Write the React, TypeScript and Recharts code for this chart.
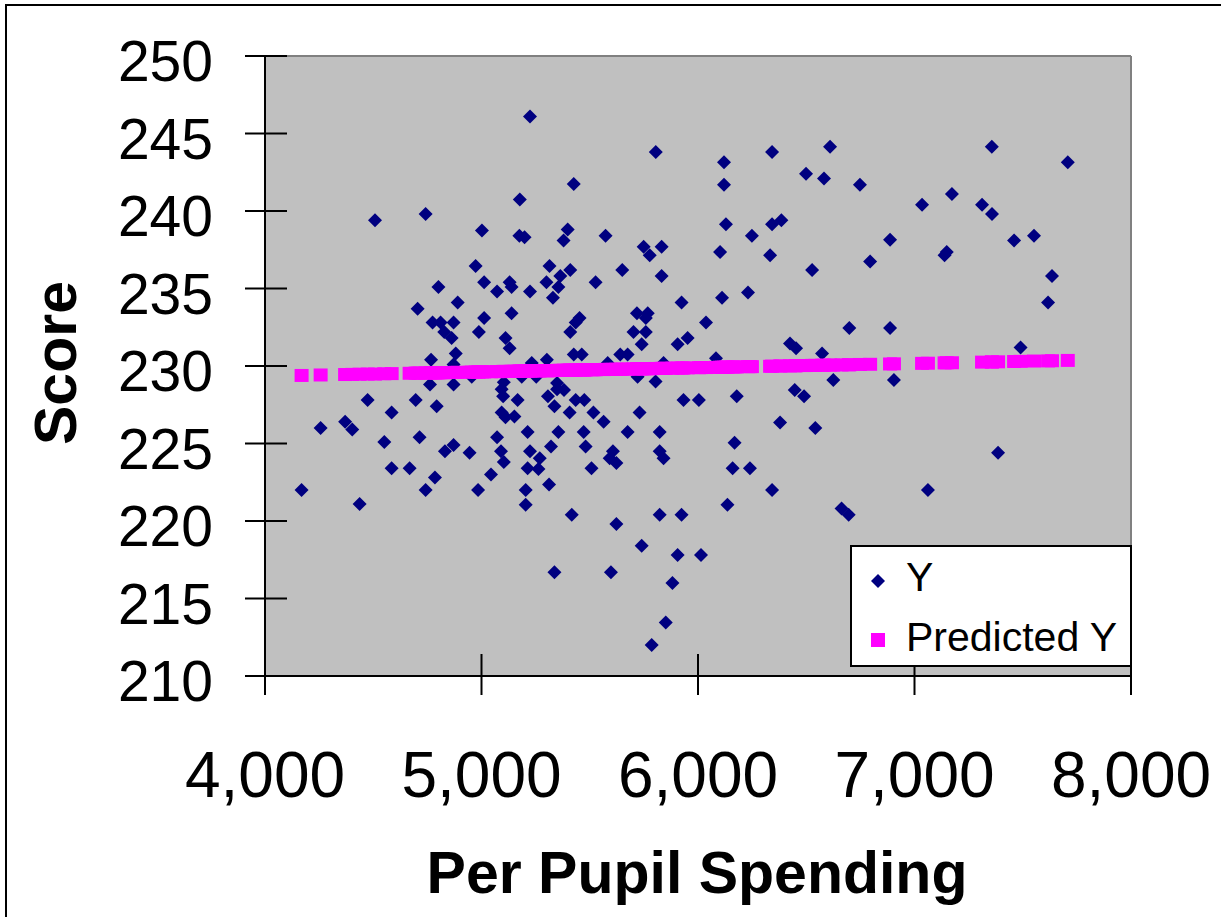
import React from "react";
import { ScatterChart, Scatter, XAxis, YAxis, CartesianGrid, ReferenceLine } from "recharts";

// spending, score
const observed: [number, number][] = [
  [4169, 222.0], [4257, 226.0], [4370, 226.4], [4403, 225.9], [4437, 221.1], [4474, 227.8],
  [4508, 239.4], [4551, 225.1], [4585, 227.0], [4585, 223.4], [4668, 223.4], [4696, 227.8],
  [4705, 233.7], [4714, 225.4], [4742, 239.8], [4742, 222.0], [4762, 228.8], [4767, 230.4],
  [4774, 232.8], [4785, 222.8], [4793, 227.4], [4801, 235.1], [4811, 232.8], [4828, 232.2],
  [4831, 224.5], [4862, 231.8], [4871, 232.8], [4871, 230.1], [4871, 228.8], [4871, 224.9],
  [4881, 230.8], [4890, 234.1], [4945, 224.4], [4955, 229.3], [4973, 236.45], [4984, 222.0],
  [4988, 232.2], [5002, 238.75], [5012, 235.4], [5012, 233.1], [5044, 223.0], [5072, 234.8],
  [5072, 225.4], [5090, 224.5], [5093, 228.5], [5093, 227.0], [5100, 228.05], [5103, 228.95],
  [5103, 223.8], [5111, 231.8], [5111, 226.7], [5130, 235.4], [5130, 231.15], [5139, 235.1],
  [5139, 233.4], [5152, 226.75], [5167, 227.8], [5175, 238.4], [5177, 240.75], [5186, 229.3],
  [5199, 238.3], [5204, 222.0], [5204, 221.05], [5213, 225.75], [5213, 223.4], [5224, 246.1],
  [5224, 234.8], [5224, 224.5], [5232, 230.2], [5253, 229.3], [5263, 223.35], [5269, 224.05],
  [5300, 235.4], [5302, 230.4], [5307, 228.05], [5312, 222.35], [5314, 236.45], [5321, 224.8],
  [5330, 234.4], [5337, 227.4], [5337, 216.7], [5349, 228.9], [5349, 228.5], [5355, 235.1],
  [5355, 225.75], [5364, 235.8], [5379, 238.1], [5381, 228.45], [5398, 238.8], [5407, 227.0],
  [5410, 236.2], [5410, 232.2], [5417, 220.4], [5426, 241.75], [5426, 230.75], [5435, 232.8],
  [5435, 227.8], [5453, 233.1], [5463, 230.75], [5472, 225.75], [5475, 227.8], [5481, 224.8],
  [5508, 223.4], [5517, 227.0], [5527, 235.4], [5564, 226.4], [5573, 238.4], [5583, 230.2],
  [5592, 224.05], [5598, 216.7], [5607, 224.5], [5623, 223.75], [5623, 219.8], [5641, 230.75],
  [5650, 236.2], [5675, 230.75], [5675, 225.75], [5702, 232.2], [5718, 233.4], [5721, 229.3],
  [5730, 227.0], [5740, 231.4], [5740, 218.4], [5749, 237.7], [5759, 233.1], [5759, 232.2],
  [5768, 233.4], [5777, 237.15], [5786, 212.0], [5804, 229.0], [5805, 243.8], [5823, 225.75],
  [5823, 224.5], [5823, 220.4], [5832, 237.7], [5832, 235.8], [5841, 230.2], [5841, 224.05],
  [5851, 213.45], [5882, 216.0], [5906, 231.4], [5906, 217.8], [5924, 234.1], [5924, 220.4],
  [5933, 227.8], [5952, 231.8], [6004, 227.8], [6014, 217.8], [6037, 232.8], [6083, 230.5],
  [6102, 237.35], [6111, 234.4], [6120, 243.15], [6120, 241.7], [6129, 239.15], [6136, 221.05],
  [6160, 223.4], [6169, 225.05], [6179, 228.05], [6231, 234.75], [6240, 223.4], [6249, 238.4],
  [6333, 237.15], [6342, 243.8], [6342, 239.15], [6342, 222.0], [6379, 226.35], [6385, 239.4],
  [6425, 231.45], [6447, 228.45], [6453, 231.15], [6490, 228.05], [6499, 242.4], [6527, 236.2],
  [6542, 226.0], [6573, 230.8], [6582, 242.1], [6610, 244.15], [6625, 229.1], [6663, 220.8],
  [6696, 220.4], [6699, 232.45], [6748, 241.7], [6795, 236.75], [6887, 238.15], [6887, 232.45],
  [6905, 229.1], [7035, 240.4], [7062, 222.0], [7139, 237.15], [7149, 237.35], [7173, 241.1],
  [7312, 240.4], [7357, 244.15], [7358, 239.8], [7386, 224.4], [7460, 238.1], [7490, 231.2],
  [7552, 238.4], [7617, 234.1], [7635, 235.8], [7708, 243.15],
];

// spending, predicted score (the magenta band)
const predicted: [number, number][] = [
  [4169, 229.39], [4257, 229.42], [4370, 229.45], [4403, 229.46], [4437, 229.47], [4474, 229.48],
  [4508, 229.48], [4551, 229.5], [4585, 229.51], [4668, 229.53], [4696, 229.54], [4705, 229.54],
  [4714, 229.54], [4742, 229.55], [4762, 229.55], [4767, 229.56], [4774, 229.56], [4785, 229.56],
  [4793, 229.56], [4801, 229.56], [4811, 229.57], [4828, 229.57], [4831, 229.57], [4862, 229.58],
  [4871, 229.58], [4881, 229.59], [4890, 229.59], [4945, 229.6], [4955, 229.61], [4973, 229.61],
  [4984, 229.61], [4988, 229.62], [5002, 229.62], [5012, 229.62], [5044, 229.63], [5072, 229.64],
  [5090, 229.64], [5093, 229.64], [5100, 229.65], [5103, 229.65], [5111, 229.65], [5130, 229.65],
  [5139, 229.66], [5152, 229.66], [5167, 229.66], [5175, 229.67], [5177, 229.67], [5186, 229.67],
  [5199, 229.67], [5204, 229.67], [5213, 229.68], [5224, 229.68], [5232, 229.68], [5253, 229.69],
  [5263, 229.69], [5269, 229.69], [5300, 229.7], [5302, 229.7], [5307, 229.7], [5312, 229.7],
  [5314, 229.7], [5321, 229.71], [5330, 229.71], [5337, 229.71], [5349, 229.71], [5355, 229.72],
  [5364, 229.72], [5379, 229.72], [5381, 229.72], [5398, 229.73], [5407, 229.73], [5410, 229.73],
  [5417, 229.73], [5426, 229.73], [5435, 229.74], [5453, 229.74], [5463, 229.75], [5472, 229.75],
  [5475, 229.75], [5481, 229.75], [5508, 229.76], [5517, 229.76], [5527, 229.76], [5564, 229.77],
  [5573, 229.78], [5583, 229.78], [5592, 229.78], [5598, 229.78], [5607, 229.78], [5623, 229.79],
  [5641, 229.79], [5650, 229.8], [5675, 229.8], [5702, 229.81], [5718, 229.82], [5721, 229.82],
  [5730, 229.82], [5740, 229.82], [5749, 229.82], [5759, 229.83], [5768, 229.83], [5777, 229.83],
  [5786, 229.83], [5804, 229.84], [5805, 229.84], [5823, 229.84], [5832, 229.85], [5841, 229.85],
  [5851, 229.85], [5882, 229.86], [5906, 229.87], [5924, 229.87], [5933, 229.87], [5952, 229.88],
  [6004, 229.89], [6014, 229.9], [6037, 229.9], [6083, 229.91], [6102, 229.92], [6111, 229.92],
  [6120, 229.92], [6129, 229.93], [6136, 229.93], [6160, 229.94], [6169, 229.94], [6179, 229.94],
  [6231, 229.96], [6240, 229.96], [6249, 229.96], [6333, 229.98], [6342, 229.99], [6379, 230.0],
  [6385, 230.0], [6425, 230.01], [6447, 230.01], [6453, 230.02], [6490, 230.03], [6499, 230.03],
  [6527, 230.04], [6542, 230.04], [6573, 230.05], [6582, 230.05], [6610, 230.06], [6625, 230.06],
  [6663, 230.07], [6696, 230.08], [6699, 230.08], [6748, 230.1], [6795, 230.11], [6887, 230.13],
  [6905, 230.14], [7035, 230.17], [7062, 230.18], [7139, 230.2], [7149, 230.21], [7173, 230.21],
  [7312, 230.25], [7357, 230.26], [7358, 230.26], [7386, 230.27], [7460, 230.29], [7490, 230.3],
  [7552, 230.32], [7617, 230.33], [7635, 230.34], [7708, 230.36],
];

const xTicks = [4000, 5000, 6000, 7000, 8000];
const yTicks = [210, 215, 220, 225, 230, 235, 240, 245, 250];

const FONT = '"Liberation Sans", Arial, sans-serif';
const NAVY = "#000080";
const MAGENTA = "#FF00FF";

const yData = observed.map(([x, y]) => ({ x, y }));
const pData = predicted.map(([x, y]) => ({ x, y }));

function Diamond(props: any) {
  const { cx, cy } = props;
  return (
    <polygon
      points={`${cx},${cy - 7} ${cx + 7},${cy} ${cx},${cy + 7} ${cx - 7},${cy}`}
      fill={NAVY}
    />
  );
}

function Square(props: any) {
  const { cx, cy } = props;
  return <rect x={cx - 7} y={cy - 6.5} width={14} height={13} fill={MAGENTA} />;
}

function YTick({ x, y, payload }: any) {
  return (
    <g>
      <line x1={x - 20} x2={x + 22} y1={y} y2={y} stroke="#000" strokeWidth={2} />
      <text x={x - 52} y={y + 25} textAnchor="end" fontSize={57} fontFamily={FONT} fill="#000">
        {payload.value}
      </text>
    </g>
  );
}

function XTick({ x, y, payload }: any) {
  return (
    <g>
      <line x1={x} x2={x} y1={y - 22} y2={y + 19} stroke="#000" strokeWidth={2} />
      <text x={x} y={y + 121} textAnchor="middle" fontSize={64} fontFamily={FONT} fill="#000">
        {Number(payload.value).toLocaleString("en-US")}
      </text>
    </g>
  );
}

function Legend() {
  return (
    <div
      style={{
        position: "absolute",
        left: 850,
        top: 545,
        width: 278,
        height: 118,
        background: "#fff",
        border: "2px solid #000",
        fontFamily: FONT,
        fontSize: 41,
        color: "#000",
      }}
    >
      <svg width={278} height={118} style={{ position: "absolute", left: 0, top: 0 }}>
        <polygon points="26,27 33,34 26,41 19,34" fill={NAVY} />
        <rect x={19} y={86} width={14} height={14} fill={MAGENTA} />
        <text x={54} y={44} fontSize={41} fontFamily={FONT}>Y</text>
        <text x={54} y={104} fontSize={41} fontFamily={FONT}>Predicted Y</text>
      </svg>
    </div>
  );
}

export default function App() {
  return (
    <div
      style={{
        position: "absolute",
        left: 0,
        top: 0,
        width: 1221,
        height: 917,
        overflow: "hidden",
        background: "#fff",
      }}
    >
      <div
        style={{
          position: "absolute",
          left: 5,
          top: 4,
          width: 1400,
          height: 1100,
          borderLeft: "2px solid #000",
          borderTop: "2px solid #000",
        }}
      />
      <div style={{ position: "absolute", left: 0, top: 0 }}>
        <ScatterChart
          width={1221}
          height={917}
          margin={{ top: 56, right: 90, bottom: 181, left: 185 }}
        >
          <CartesianGrid horizontal={false} vertical={false} fill="#C0C0C0" />
          <ReferenceLine y={250} stroke="#808080" strokeWidth={2} />
          <ReferenceLine x={8000} stroke="#808080" strokeWidth={2} />
          <XAxis
            type="number"
            dataKey="x"
            domain={[4000, 8000]}
            ticks={xTicks}
            height={60}
            axisLine={{ stroke: "#000", strokeWidth: 2 }}
            tickLine={false}
            tickSize={0}
            tickMargin={0}
            tick={<XTick />}
            allowDataOverflow
            label={{
              content: () => (
                <text
                  x={697}
                  y={893}
                  textAnchor="middle"
                  fontSize={59}
                  fontWeight="bold"
                  fontFamily={FONT}
                  fill="#000"
                >
                  Per Pupil Spending
                </text>
              ),
            }}
          />
          <YAxis
            type="number"
            dataKey="y"
            domain={[210, 250]}
            ticks={yTicks}
            width={80}
            axisLine={{ stroke: "#000", strokeWidth: 2 }}
            tickLine={false}
            tickSize={0}
            tickMargin={0}
            tick={<YTick />}
            allowDataOverflow
            label={{
              content: () => (
                <text
                  x={76}
                  y={363}
                  transform="rotate(-90 76 363)"
                  textAnchor="middle"
                  fontSize={59}
                  fontWeight="bold"
                  fontFamily={FONT}
                  fill="#000"
                >
                  Score
                </text>
              ),
            }}
          />
          <Scatter name="Y" data={yData} shape={<Diamond />} isAnimationActive={false} />
          <Scatter name="Predicted Y" data={pData} shape={<Square />} isAnimationActive={false} />
        </ScatterChart>
      </div>
      <Legend />
    </div>
  );
}
